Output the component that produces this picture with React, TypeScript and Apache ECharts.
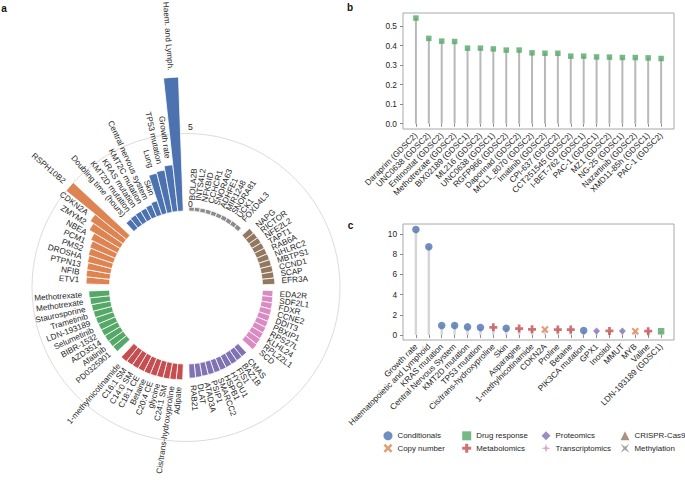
import React, { useEffect, useRef } from "react";
import * as echarts from "echarts";

const FONT = "'Liberation Sans', Arial, Helvetica, sans-serif";
const INK = "#262626";

// ---------------- panel a (circular bar chart), clockwise from the top ----------------
const methylationNames = ["BOLA2B", "INTS4L2", "NFKBID", "CCHCR1", "SNORA63", "ADHFE1", "MIR1248", "SNORA81", "UCK1", "FOXD4L3"];
const methylationValues = [0.26, 0.27, 0.27, 0.28, 0.28, 0.28, 0.29, 0.29, 0.3, 0.3];

const crisprNames = ["NAPG", "RICTOR", "NFE2L2", "TAPT1", "RAB6A", "NHLRC2", "MBTPS1", "CCND1", "SCAP", "EFR3A"];
const crisprValues = [0.66, 0.68, 0.7, 0.71, 0.72, 0.74, 0.75, 0.77, 0.78, 0.8];

const transcriptomicsNames = ["EDA2R", "SDF2L1", "FDXR", "CCNE2", "DDIT3", "PBXIP1", "RPS27L", "KLHL24", "RPL22L1", "SCD"];
const transcriptomicsValues = [0.68, 0.7, 0.73, 0.76, 0.78, 0.8, 0.83, 0.86, 0.9, 0.94];

const proteomicsNames = ["CMAS", "BAZ1B", "FIS1", "HYOU1", "HSPB1", "SMARCC2", "PSIP1", "ATAD3A", "DLAT", "RAB21"];
const proteomicsValues = [0.8, 0.81, 0.83, 0.84, 0.85, 0.86, 0.87, 0.88, 0.9, 0.92];

const metabolomicsNames = ["Adipate", "Cis/trans-hydroxyproline", "C24:1 SM", "glycine", "C20:4 CE", "Betaine", "C18:1 CE", "C14:0 SM", "C16:1 SM", "1-methylnicotinamide"];
const metabolomicsValues = [1.03, 1.05, 1.07, 1.08, 1.1, 1.12, 1.13, 1.15, 1.16, 1.2];

const drugNames = ["PD0325901", "Afatinib", "AZD3514", "BIBR-1532", "Selumetinib", "LDN-193189", "Trametinib", "Staurosporine", "Methotrexate", "Methotrexate"];
const drugValues = [1.12, 1.14, 1.16, 1.18, 1.19, 1.21, 1.23, 1.26, 1.3, 1.34];

const copyNumberNames = ["ETV1", "NFIB", "PTPN13", "DROSHA", "PMS2", "PCM1", "NBEA", "ZMYM2", "CDKN2A", "RSPH10B2"];
const copyNumberValues = [1.52, 1.55, 1.57, 1.63, 1.71, 1.79, 1.94, 2.33, 2.59, 5.0];

const conditionalNames = ["Doubling time (hours)", "KMT2D mutation", "KRAS mutation", "KMT2C mutation", "Central nervous system", "Skin", "Lung", "TP53 mutation", "Growth rate", "Haem. and Lymph."];
const conditionalValues = [0.74, 0.77, 0.79, 0.8, 0.86, 0.97, 2.68, 2.77, 3.03, 8.65];

const radialTicks = [0, 5];

// ---------------- panel b ----------------
const drugNamesB = [
  "Daraprim (GDSC2)", "UNC0638 (GDSC2)", "Entinostat (GDSC2)", "Methotrexate (GDSC2)", "BIX02189 (GDSC1)",
  "ML216 (GDSC2)", "UNC0638 (GDSC1)", "RGFP966 (GDSC2)", "Daporinad (GDSC2)", "MCL1_8070 (GDSC2)",
  "Imatinib (GDSC2)", "CPI-637 (GDSC2)", "CCT251545 (GDSC2)", "I-BET-762 (GDSC1)", "PAC-1 (GDSC1)",
  "MZ1 (GDSC2)", "NG-25 (GDSC1)", "Nazartinib (GDSC2)", "XMD11-85h (GDSC1)", "PAC-1 (GDSC2)",
];
const drugValuesB = [0.541, 0.437, 0.423, 0.421, 0.387, 0.387, 0.383, 0.377, 0.377, 0.363, 0.361, 0.361, 0.346, 0.346, 0.342, 0.341, 0.339, 0.339, 0.337, 0.334];
const ticksB = [0, 0.1, 0.2, 0.3, 0.4, 0.5];

// ---------------- panel c ----------------
const featureNamesC = [
  "Growth rate", "Haematopoietic and Lymphoid", "KRAS mutation", "Central Nervous System", "KMT2D mutation",
  "TP53 mutation", "Cis/trans-hydroxyproline", "Skin", "Asparagine", "1-methylnicotinamide",
  "CDKN2A", "Proline", "Betaine", "PIK3CA mutation", "GPX1", "Inositol", "MMUT", "MYB", "Valine", "LDN-193189 (GDSC1)",
];
const featureValuesC = [10.46, 8.74, 0.93, 0.94, 0.8, 0.73, 0.76, 0.66, 0.63, 0.56, 0.53, 0.53, 0.53, 0.43, 0.4, 0.4, 0.4, 0.37, 0.37, 0.37];
const featureGroupsC = [
  "Conditionals", "Conditionals", "Conditionals", "Conditionals", "Conditionals",
  "Conditionals", "Metabolomics", "Conditionals", "Metabolomics", "Metabolomics",
  "Copy number", "Metabolomics", "Metabolomics", "Conditionals", "Proteomics",
  "Metabolomics", "Proteomics", "Copy number", "Metabolomics", "Drug response",
];
const ticksC = [0, 2, 4, 6, 8, 10];

const legendColumns = [
  ["Conditionals", "Copy number"],
  ["Drug response", "Metabolomics"],
  ["Proteomics", "Transcriptomics"],
  ["CRISPR-Cas9", "Methylation"],
];

// ---------------- styles ----------------
const groupColors: Record<string, string> = {
  Conditionals: "#4C72B0",
  "Copy number": "#DD8452",
  "Drug response": "#55A868",
  Metabolomics: "#C44E52",
  Proteomics: "#8172B3",
  Transcriptomics: "#DA8BC3",
  "CRISPR-Cas9": "#937860",
  Methylation: "#8C8C8C",
};
const groupSymbols: Record<string, string> = {
  Conditionals: "circle",
  "Copy number": "path://M0,2 L2,0 L5,3 L8,0 L10,2 L7,5 L10,8 L8,10 L5,7 L2,10 L0,8 L3,5 Z",
  "Drug response": "rect",
  Metabolomics: "path://M3.3,0 L6.7,0 L6.7,3.3 L10,3.3 L10,6.7 L6.7,6.7 L6.7,10 L3.3,10 L3.3,6.7 L0,6.7 L0,3.3 L3.3,3.3 Z",
  Proteomics: "diamond",
  Transcriptomics: "path://M5,0 L6.1,3.9 L10,5 L6.1,6.1 L5,10 L3.9,6.1 L0,5 L3.9,3.9 Z",
  "CRISPR-Cas9": "triangle",
  Methylation: "path://M0,0 L5,3.4 L10,0 L6.6,5 L10,10 L5,6.6 L0,10 L3.4,5 Z",
};
const groupSizes: Record<string, number> = {
  Conditionals: 7.5,
  "Copy number": 7.5,
  "Drug response": 6.5,
  Metabolomics: 8,
  Proteomics: 7,
  Transcriptomics: 8,
  "CRISPR-Cas9": 8,
  Methylation: 8,
};

export default function App() {
  const ref = useRef<HTMLDivElement>(null);

  useEffect(() => {
    if (!ref.current) return;
    const chart = echarts.init(ref.current, undefined, { renderer: "svg" });

    const polarGroups = [
      { group: "Methylation", names: methylationNames, values: methylationValues },
      { group: "CRISPR-Cas9", names: crisprNames, values: crisprValues },
      { group: "Transcriptomics", names: transcriptomicsNames, values: transcriptomicsValues },
      { group: "Proteomics", names: proteomicsNames, values: proteomicsValues },
      { group: "Metabolomics", names: metabolomicsNames, values: metabolomicsValues },
      { group: "Drug response", names: drugNames, values: drugValues },
      { group: "Copy number", names: copyNumberNames, values: copyNumberValues },
      { group: "Conditionals", names: conditionalNames, values: conditionalValues },
    ];
    type Slot = { name: string; value: number; group: string } | null;
    const slots: Slot[] = [];
    polarGroups.forEach((g) => {
      slots.push(null);
      g.names.forEach((n, i) => slots.push({ name: n, value: g.values[i], group: g.group }));
    });
    const nSlots = slots.length;
    const LABEL_PAD = 0.45;

    const angleData = slots.map((_, i) => "s" + i);
    const barData = slots.map((s) =>
      s ? { value: s.value, itemStyle: { color: groupColors[s.group] } } : "-"
    );
    const labelData: number[][] = [];
    const labelText: string[] = [];
    slots.forEach((s, i) => {
      if (s) {
        labelData.push([s.value + LABEL_PAD, i]);
        labelText.push(s.name);
      }
    });

    const padCats = (arr: string[]) => ["", ...arr, ""];
    const padVals = (arr: (number | string)[]) => ["-", ...arr, "-"];
    const nB = drugNamesB.length;
    const nC = featureNamesC.length;

    const groupsAll = Object.keys(groupColors);
    const scatterC = groupsAll.map((g) => ({
      name: g,
      type: "scatter",
      xAxisIndex: 1,
      yAxisIndex: 1,
      symbol: groupSymbols[g],
      symbolSize: groupSizes[g],
      itemStyle: { color: groupColors[g] },
      silent: true,
      z: 5,
      data: padVals(featureValuesC.map((v, i) => (featureGroupsC[i] === g ? v : "-"))),
    }));

    const legends = legendColumns.map((col, ci) => ({
      orient: "vertical",
      left: [378.5, 457.2, 536.5, 615.5][ci],
      top: 426.3,
      itemWidth: 9,
      itemHeight: 9,
      itemGap: 3.4,
      selectedMode: false,
      textStyle: { fontSize: 7.9, color: INK, fontFamily: FONT },
      data: col.map((g) => ({ name: g, icon: groupSymbols[g] })),
    }));

    const axisText = { fontSize: 8.3, color: INK, fontFamily: FONT };

    const option: any = {
      animation: false,
      textStyle: { fontFamily: FONT },
      polar: { center: [186, 287.5], radius: [76.5, 231.5] },
      angleAxis: {
        type: "category",
        data: angleData,
        startAngle: 90 + 180 / nSlots,
        clockwise: true,
        boundaryGap: true,
        axisLine: { show: false },
        axisTick: { show: false },
        axisLabel: { show: false },
        splitLine: { show: false },
        splitArea: { show: false },
      },
      radiusAxis: {
        type: "value",
        min: 0,
        max: 10,
        interval: 5,
        axisLine: { show: false },
        axisTick: { show: false },
        axisLabel: { show: false },
        splitArea: { show: false },
        splitLine: {
          show: true,
          lineStyle: { color: ["rgba(0,0,0,0)", "#dcdcdc", "rgba(0,0,0,0)"], width: 1 },
        },
      },
      grid: [
        { left: 403, right: 11, top: 13, bottom: 356, show: true, borderColor: "#a8a8a8", borderWidth: 1, backgroundColor: "transparent" },
        { left: 403, right: 11, top: 224, bottom: 145, show: true, borderColor: "#a8a8a8", borderWidth: 1, backgroundColor: "transparent" },
      ],
      xAxis: [
        {
          gridIndex: 0,
          type: "category",
          boundaryGap: false,
          data: padCats(drugNamesB),
          axisLine: { show: false },
          axisTick: { show: true, length: 3, lineStyle: { color: "#8a8a8a" }, interval: (i: number) => i > 0 && i <= nB },
          axisLabel: { ...axisText, rotate: 45, margin: 5, interval: 0 },
          splitLine: { show: false },
        },
        {
          gridIndex: 1,
          type: "category",
          boundaryGap: false,
          data: padCats(featureNamesC),
          axisLine: { show: false },
          axisTick: { show: true, length: 3, lineStyle: { color: "#8a8a8a" }, interval: (i: number) => i > 0 && i <= nC },
          axisLabel: { ...axisText, rotate: 45, margin: 5, interval: 0 },
          splitLine: { show: false },
        },
      ],
      yAxis: [
        {
          gridIndex: 0,
          type: "value",
          min: -0.027,
          max: 0.567,
          axisLine: { show: false },
          axisTick: { show: true, length: 3, lineStyle: { color: "#8a8a8a" }, customValues: ticksB },
          axisLabel: { ...axisText, margin: 6, customValues: ticksB, formatter: (v: number) => v.toFixed(1) },
          splitLine: { show: false },
        },
        {
          gridIndex: 1,
          type: "value",
          min: -0.5,
          max: 11,
          axisLine: { show: false },
          axisTick: { show: true, length: 3, lineStyle: { color: "#8a8a8a" }, customValues: ticksC },
          axisLabel: { ...axisText, margin: 6, customValues: ticksC, formatter: (v: number) => String(v) },
          splitLine: { show: false },
        },
      ],
      legend: legends,
      graphic: [
        { type: "text", x: 4, y: 8, style: { text: "a", fontSize: 10, fontWeight: "bold", fontFamily: FONT, fill: "#111", align: "center", verticalAlign: "middle" } },
        { type: "text", x: 350, y: 7, style: { text: "b", fontSize: 10, fontWeight: "bold", fontFamily: FONT, fill: "#111", align: "center", verticalAlign: "middle" } },
        { type: "text", x: 350.5, y: 225.5, style: { text: "c", fontSize: 10, fontWeight: "bold", fontFamily: FONT, fill: "#111", align: "center", verticalAlign: "middle" } },
      ],
      series: [
        {
          name: "a-bars",
          type: "bar",
          coordinateSystem: "polar",
          polarIndex: 0,
          data: barData,
          barCategoryGap: "0%",
          itemStyle: { borderColor: "#ffffff", borderWidth: 0.8 },
          silent: true,
          z: 2,
        },
        {
          name: "a-labels",
          type: "custom",
          coordinateSystem: "polar",
          polarIndex: 0,
          encode: { radius: 0, angle: 1 },
          data: labelData,
          silent: true,
          z: 4,
          renderItem: (params: any, api: any) => {
            const r = api.value(0);
            const slot = api.value(1);
            const pt = api.coord([r, slot]);
            const theta = (slot * 360) / nSlots;
            let deg: number;
            let align: string;
            if (theta < 180) {
              deg = 90 - theta;
              align = "left";
            } else {
              deg = 270 - theta;
              align = "right";
            }
            return {
              type: "text",
              x: pt[0],
              y: pt[1],
              rotation: (deg * Math.PI) / 180,
              style: {
                text: labelText[params.dataIndex],
                fill: INK,
                fontSize: 8.2,
                fontFamily: FONT,
                align,
                verticalAlign: "middle",
              },
            };
          },
        },
        {
          name: "a-radial-ticks",
          type: "custom",
          coordinateSystem: "polar",
          polarIndex: 0,
          encode: { radius: 0, angle: 1 },
          data: radialTicks.map((t) => [t, 0]),
          silent: true,
          z: 4,
          renderItem: (params: any, api: any) => {
            const pt = api.coord([api.value(0), api.value(1)]);
            return {
              type: "text",
              x: pt[0] + 4.5,
              y: pt[1] - 7,
              style: {
                text: String(radialTicks[params.dataIndex]),
                fill: INK,
                fontSize: 8.6,
                fontFamily: FONT,
                align: "center",
                verticalAlign: "middle",
              },
            };
          },
        },
        {
          name: "b-stems",
          type: "bar",
          xAxisIndex: 0,
          yAxisIndex: 0,
          data: padVals(drugValuesB),
          barWidth: 2,
          itemStyle: { color: "#b8b8b8" },
          silent: true,
          z: 2,
        },
        {
          name: "b-points",
          type: "scatter",
          xAxisIndex: 0,
          yAxisIndex: 0,
          data: padVals(drugValuesB),
          symbol: "rect",
          symbolSize: 5.5,
          itemStyle: { color: groupColors["Drug response"] },
          silent: true,
          z: 5,
        },
        {
          name: "c-stems",
          type: "bar",
          xAxisIndex: 1,
          yAxisIndex: 1,
          data: padVals(featureValuesC),
          barWidth: 2.5,
          itemStyle: { color: "#d6d6d6" },
          silent: true,
          z: 2,
        },
        ...scatterC,
      ],
    };

    chart.setOption(option);
    return () => chart.dispose();
  }, []);

  return (
    <div
      ref={ref}
      style={{ position: "fixed", left: 0, top: 0, width: 685, height: 485, background: "#fff" }}
    />
  );
}
